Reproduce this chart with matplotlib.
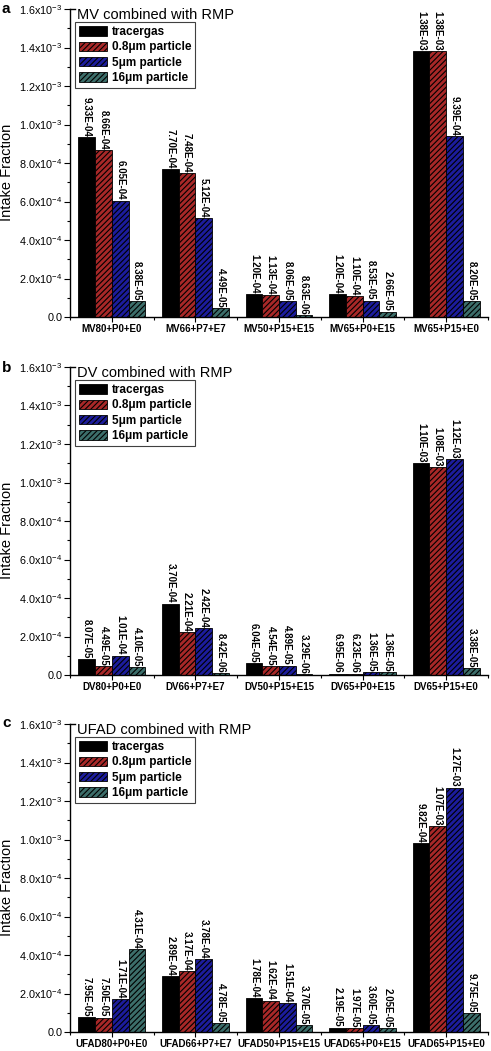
import matplotlib
matplotlib.use('Agg')
import matplotlib.pyplot as plt
import numpy as np
from matplotlib.ticker import MultipleLocator, FuncFormatter, FixedLocator

plt.rcParams['font.family'] = ['Liberation Sans', 'DejaVu Sans']
plt.rcParams['mathtext.fontset'] = 'custom'
plt.rcParams['mathtext.rm'] = 'Liberation Sans'
plt.rcParams['mathtext.it'] = 'Liberation Sans:italic'
plt.rcParams['mathtext.bf'] = 'Liberation Sans:bold'
plt.rcParams['hatch.linewidth'] = 0.8

series_names = ['tracergas', '0.8μm particle', '5μm particle', '16μm particle']
series_colors = ['#000000', '#a82828', '#1c1c9c', '#3c6e6a']
series_hatches = ['', '//////', '//////', '//////']

mv_cases = ['MV80+P0+E0', 'MV66+P7+E7', 'MV50+P15+E15', 'MV65+P0+E15', 'MV65+P15+E0']
mv_tracergas = [9.33e-04, 7.70e-04, 1.20e-04, 1.20e-04, 1.38e-03]
mv_p08 = [8.66e-04, 7.48e-04, 1.13e-04, 1.10e-04, 1.38e-03]
mv_p5 = [6.05e-04, 5.12e-04, 8.06e-05, 8.53e-05, 9.39e-04]
mv_p16 = [8.38e-05, 4.49e-05, 8.63e-06, 2.66e-05, 8.20e-05]

dv_cases = ['DV80+P0+E0', 'DV66+P7+E7', 'DV50+P15+E15', 'DV65+P0+E15', 'DV65+P15+E0']
dv_tracergas = [8.07e-05, 3.70e-04, 6.04e-05, 6.95e-06, 1.10e-03]
dv_p08 = [4.49e-05, 2.21e-04, 4.54e-05, 6.23e-06, 1.08e-03]
dv_p5 = [1.01e-04, 2.42e-04, 4.89e-05, 1.36e-05, 1.12e-03]
dv_p16 = [4.10e-05, 8.42e-06, 3.29e-06, 1.36e-05, 3.38e-05]

ufad_cases = ['UFAD80+P0+E0', 'UFAD66+P7+E7', 'UFAD50+P15+E15', 'UFAD65+P0+E15', 'UFAD65+P15+E0']
ufad_tracergas = [7.95e-05, 2.89e-04, 1.78e-04, 2.19e-05, 9.82e-04]
ufad_p08 = [7.50e-05, 3.17e-04, 1.62e-04, 1.97e-05, 1.07e-03]
ufad_p5 = [1.71e-04, 3.78e-04, 1.51e-04, 3.60e-05, 1.27e-03]
ufad_p16 = [4.31e-04, 4.78e-05, 3.70e-05, 2.05e-05, 9.75e-05]

panels = [
    ('a', 'MV combined with RMP', mv_cases, [mv_tracergas, mv_p08, mv_p5, mv_p16]),
    ('b', 'DV combined with RMP', dv_cases, [dv_tracergas, dv_p08, dv_p5, dv_p16]),
    ('c', 'UFAD combined with RMP', ufad_cases, [ufad_tracergas, ufad_p08, ufad_p5, ufad_p16]),
]


def yfmt(v, pos):
    if abs(v) < 1e-12:
        return '0.0'
    if v < 0:
        return ''
    e = int(np.floor(np.log10(v) + 1e-9))
    m = v / 10 ** e
    return r'%.1fx10$^{%d}$' % (m, e)


W, H = 491, 1051
fig = plt.figure(figsize=(W / 100, H / 100), dpi=100)

# (top_px, bottom_px, letter_y_px)
layout = [(9, 317, 2), (367, 675, 361), (724, 1032, 716)]
left_px, right_px = 70, 488

bw = 0.2
offsets = [-1.5, -0.5, 0.5, 1.5]

for (letter, title, cases, data), (top, bot, ly) in zip(panels, layout):
    ax = fig.add_axes([left_px / W, 1 - bot / H, (right_px - left_px) / W, (bot - top) / H])
    x = np.arange(len(cases))
    handles = []
    for k, vals in enumerate(data):
        bars = ax.bar(x + offsets[k] * bw, vals, width=bw, color=series_colors[k],
                      edgecolor='black', linewidth=0.6, hatch=series_hatches[k],
                      label=series_names[k])
        handles.append(bars)
        for xi, v in zip(x + offsets[k] * bw, vals):
            ax.annotate('%.2E' % v, (xi, v), xytext=(0, 0.5), textcoords='offset points',
                        rotation=-90, ha='center', va='bottom', fontsize=7,
                        fontweight='bold', annotation_clip=False)
    ax.set_xlim(-0.5, len(cases) - 0.5)
    ax.set_ylim(0, 1.6e-3)
    ax.yaxis.set_major_locator(MultipleLocator(2e-4))
    ax.yaxis.set_minor_locator(MultipleLocator(1e-4))
    ax.yaxis.set_major_formatter(FuncFormatter(yfmt))
    ax.set_xticks(x)
    ax.set_xticklabels(cases, fontsize=7, fontweight='bold')
    ax.xaxis.set_minor_locator(FixedLocator(np.arange(-0.5, len(cases), 1.0)))
    ax.tick_params(axis='y', which='major', direction='out', length=4, width=0.8,
                   labelsize=7.8, pad=1.5)
    ax.tick_params(axis='y', which='minor', direction='out', length=2.5, width=0.8)
    ax.tick_params(axis='x', which='major', direction='out', length=3.5, width=0.8, pad=1.5)
    ax.tick_params(axis='x', which='minor', direction='out', length=2.2, width=0.8)
    ax.spines['right'].set_visible(False)
    ax.spines['top'].set_bounds(-0.5, -0.44)
    ax.spines['top'].set_linewidth(1.0)
    for s in ['left', 'bottom']:
        ax.spines[s].set_linewidth(1.0)
    ax.set_ylabel('Intake Fraction', fontsize=10.5)
    ax.yaxis.set_label_coords(-0.135, 0.47)
    ax.text(0.017, 1.003, title, transform=ax.transAxes, fontsize=10.5, va='top', ha='left')
    leg = ax.legend(handles=handles, loc='upper left', bbox_to_anchor=(0.012, 0.958),
                    prop={'size': 8.5, 'weight': 'bold'}, frameon=True, fancybox=False,
                    edgecolor='#404040', framealpha=1, borderpad=0.35, labelspacing=0.28,
                    handlelength=2.4, handleheight=0.85, handletextpad=0.35,
                    borderaxespad=0)
    leg.get_frame().set_linewidth(0.8)
    fig.text(2 / W, 1 - ly / H, letter, fontsize=11, fontweight='bold', va='top', ha='left')

fig.savefig('out.png', dpi=100)
